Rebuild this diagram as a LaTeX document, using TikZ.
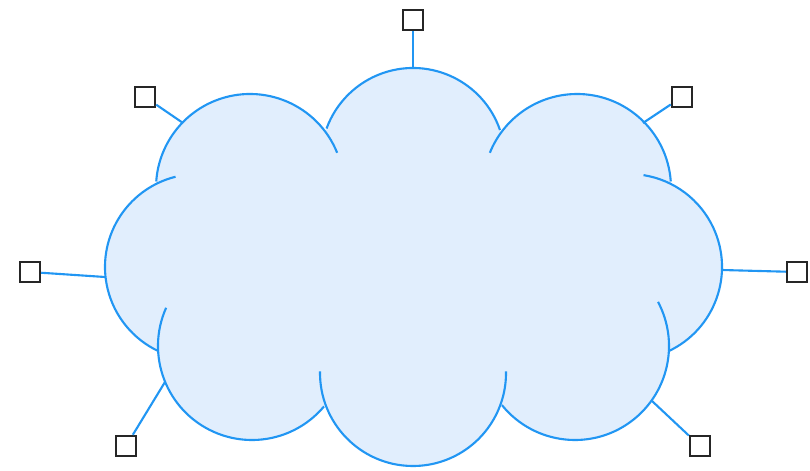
\documentclass[tikz,border=0pt]{standalone}
\definecolor{cloudfill}{RGB}{225,238,253}
\definecolor{cloudline}{RGB}{33,150,243}
\begin{document}
\begin{tikzpicture}[x=0.02cm,y=0.02cm,
    bump/.style={draw=cloudline,line width=1.2pt},
    handle/.style={draw=black!85,fill=white,line width=1.4pt,minimum size=0.4cm,inner sep=0pt},
    handleline/.style={draw=cloudline,line width=1.2pt}]
  \useasboundingbox (0,0) rectangle (810,470);

  % cloud fill
  \fill[cloudfill] (413,310) circle (92);
  \fill[cloudfill] (250,282) circle (94);
  \fill[cloudfill] (577,282) circle (94);
  \fill[cloudfill] (198,203) circle (93);
  \fill[cloudfill] (629,203) circle (93);
  \fill[cloudfill] (252,124) circle (94);
  \fill[cloudfill] (575,124) circle (94);
  \fill[cloudfill] (413,97) circle (93);
  \fill[cloudfill] (250,124) rectangle (577,282);

  % cloud bumps
  \draw[bump] ([shift={(19:92)}]413,310) arc[start angle=19,end angle=160,radius=92];
  \draw[bump] ([shift={(22:94)}]250,282) arc[start angle=22,end angle=176,radius=94];
  \draw[bump] ([shift={(4:94)}]577,282) arc[start angle=4,end angle=158,radius=94];
  \draw[bump] ([shift={(104:93)}]198,203) arc[start angle=104,end angle=245,radius=93];
  \draw[bump] ([shift={(-65:93)}]629,203) arc[start angle=-65,end angle=81,radius=93];
  \draw[bump] ([shift={(156:94)}]252,124) arc[start angle=156,end angle=320,radius=94];
  \draw[bump] ([shift={(219:94)}]575,124) arc[start angle=219,end angle=388,radius=94];
  \draw[bump] ([shift={(179:93)}]413,97) arc[start angle=179,end angle=361,radius=93];

  % handle points on the outline
  \coordinate (pN)  at (413,402);
  \coordinate (pNW) at (183,347);
  \coordinate (pNE) at (643,347);
  \coordinate (pW)  at (105,193);
  \coordinate (pE)  at (722,200);
  \coordinate (pSW) at (165,88);
  \coordinate (pSE) at (652,69);

  % handles
  \node[handle] (hN)  at (413,450) {};
  \node[handle] (hNW) at (145,373) {};
  \node[handle] (hNE) at (682,373) {};
  \node[handle] (hW)  at (30,198) {};
  \node[handle] (hE)  at (797,198) {};
  \node[handle] (hSW) at (126,24) {};
  \node[handle] (hSE) at (700,24) {};

  \draw[handleline] (pN) -- (hN);
  \draw[handleline] (pNW) -- (hNW);
  \draw[handleline] (pNE) -- (hNE);
  \draw[handleline] (pW) -- (hW);
  \draw[handleline] (pE) -- (hE);
  \draw[handleline] (pSW) -- (hSW);
  \draw[handleline] (pSE) -- (hSE);
\end{tikzpicture}
\end{document}
